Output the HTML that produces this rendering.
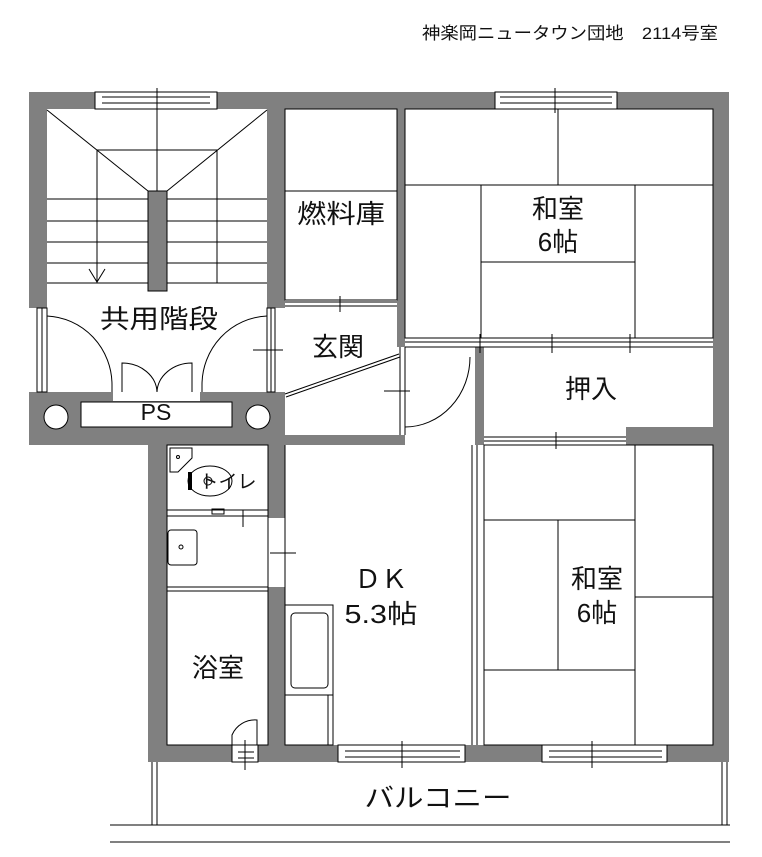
<!DOCTYPE html>
<html><head><meta charset="utf-8"><style>
html,body{margin:0;padding:0;background:#fff;}
svg{display:block;}
text{font-family:"Liberation Sans","Noto Sans CJK JP",sans-serif;fill:#111;}
</style></head><body>
<svg width="762" height="857" viewBox="0 0 762 857" xmlns="http://www.w3.org/2000/svg">
<text x="422" y="39" font-size="17" textLength="296" lengthAdjust="spacingAndGlyphs">神楽岡ニュータウン団地　2114号室</text>
<g fill="#808080">
<rect x="29" y="92" width="700" height="17"/>
<rect x="29" y="92" width="18" height="216"/>
<rect x="267" y="92" width="18" height="216"/>
<rect x="397" y="92" width="8" height="255"/>
<rect x="713" y="92" width="16" height="670"/>
<rect x="29" y="392" width="256" height="53"/>
<rect x="285" y="435" width="120" height="10"/>
<rect x="475" y="347" width="9" height="98"/>
<rect x="626" y="427" width="90" height="18"/>
<rect x="148" y="440" width="19" height="322"/>
<rect x="268" y="440" width="17" height="78"/>
<rect x="268" y="587" width="17" height="158"/>
<rect x="148" y="745" width="581" height="17"/>
</g>
<g fill="#fff" stroke="#000" stroke-width="1">
<rect x="95" y="92" width="122" height="17"/>
<rect x="495" y="92" width="122" height="17"/>
<rect x="37" y="308" width="10" height="84"/>
<rect x="267" y="308" width="8" height="84"/>
<rect x="232" y="745" width="26" height="17"/>
<rect x="338" y="745" width="127" height="17"/>
<rect x="542" y="745" width="125" height="17"/>
<rect x="113" y="392" width="87" height="9" stroke="none"/>
<rect x="81" y="402" width="151" height="25"/>
<circle cx="56" cy="417" r="12"/>
<circle cx="258" cy="417" r="12"/>
</g>
<g stroke="#000" stroke-width="1" fill="none">
<line x1="102" y1="97" x2="210" y2="97"/><line x1="102" y1="103" x2="210" y2="103"/>
<line x1="500" y1="97" x2="612" y2="97"/><line x1="500" y1="103" x2="612" y2="103"/>
<line x1="157" y1="88" x2="157" y2="191"/><line x1="555" y1="88" x2="555" y2="113"/>
<line x1="42" y1="308" x2="42" y2="392"/><line x1="271" y1="308" x2="271" y2="392"/>
<line x1="345" y1="751" x2="460" y2="751"/><line x1="345" y1="757" x2="460" y2="757"/>
<line x1="549" y1="751" x2="662" y2="751"/><line x1="549" y1="757" x2="662" y2="757"/>
<line x1="402" y1="741" x2="402" y2="768"/><line x1="592" y1="741" x2="592" y2="768"/>
<line x1="238" y1="752" x2="254" y2="752"/><line x1="238" y1="758" x2="254" y2="758"/>
<line x1="245" y1="740" x2="245" y2="770"/>
<line x1="47" y1="110" x2="148" y2="191"/><line x1="267" y1="110" x2="167" y2="191"/>
<polyline points="97,283 97,150 217,150 217,283"/>
<line x1="47" y1="199" x2="267" y2="199"/><line x1="47" y1="221" x2="267" y2="221"/>
<line x1="47" y1="242" x2="267" y2="242"/><line x1="47" y1="263" x2="267" y2="263"/>
<line x1="47" y1="283" x2="267" y2="283"/>
<polyline points="89,269 97,282 105,269"/>
<path d="M47,316 A68,69 0 0 1 112,385 L112,392"/>
<path d="M267,316 A68,69 0 0 0 202,385 L202,392"/>
<path d="M122,392 L122,363 A35,30 0 0 1 157,392 A35,30 0 0 1 192,363 L192,392"/>
<rect x="285" y="109" width="112" height="191"/>
<line x1="285" y1="191" x2="397" y2="191"/>
<line x1="285" y1="302" x2="397" y2="302"/><line x1="285" y1="306" x2="397" y2="306"/>
<line x1="340" y1="296" x2="340" y2="312"/>
<line x1="253" y1="350" x2="283" y2="350"/>
<line x1="285" y1="394" x2="399" y2="354"/><line x1="286" y1="397" x2="400" y2="357"/>
<line x1="405" y1="347" x2="405" y2="435"/>
<line x1="400" y1="347" x2="400" y2="435"/>
<path d="M470,357 A65,70 0 0 1 405,427"/>
<line x1="384" y1="391" x2="410" y2="391"/>
<rect x="405" y="109" width="308" height="229"/>
<line x1="405" y1="185" x2="713" y2="185"/><line x1="558" y1="109" x2="558" y2="185"/>
<line x1="481" y1="185" x2="481" y2="338"/><line x1="635" y1="185" x2="635" y2="338"/>
<line x1="481" y1="262" x2="635" y2="262"/>
<line x1="405" y1="342" x2="713" y2="342"/><line x1="405" y1="347" x2="713" y2="347"/>
<line x1="480" y1="334" x2="480" y2="353"/><line x1="552" y1="334" x2="552" y2="353"/><line x1="630" y1="334" x2="630" y2="353"/>
<line x1="484" y1="437" x2="626" y2="437"/><line x1="484" y1="441" x2="626" y2="441"/>
<line x1="556" y1="432" x2="556" y2="449"/>
<rect x="484" y="445" width="229" height="300"/>
<line x1="635" y1="445" x2="635" y2="745"/>
<line x1="484" y1="520" x2="635" y2="520"/><line x1="558" y1="520" x2="558" y2="670"/>
<line x1="484" y1="670" x2="635" y2="670"/><line x1="635" y1="597" x2="713" y2="597"/>
<line x1="472" y1="445" x2="472" y2="745"/><line x1="477" y1="445" x2="477" y2="745"/>
<line x1="285" y1="445" x2="285" y2="745"/>
<rect x="285" y="605" width="48" height="140"/>
<line x1="285" y1="695" x2="333" y2="695"/><line x1="328" y1="695" x2="328" y2="745"/>
<rect x="291" y="613" width="37" height="75" rx="4"/>
<line x1="270" y1="553" x2="296" y2="553"/>
<line x1="268" y1="518" x2="268" y2="587"/>
<rect x="167" y="445" width="101" height="300"/>
<line x1="167" y1="510" x2="268" y2="510"/><line x1="167" y1="516" x2="268" y2="516"/>
<rect x="212" y="509" width="12" height="5"/>
<line x1="243" y1="510" x2="243" y2="527"/>
<polygon points="170,448 192,448 192,458 178,472 170,472"/>
<circle cx="178" cy="457" r="1.5"/>
<ellipse cx="210" cy="481" rx="22" ry="15"/>
<circle cx="208" cy="481" r="4"/>
<rect x="168" y="530" width="29" height="35" rx="3"/>
<circle cx="181" cy="547" r="2"/>
<line x1="167" y1="587" x2="268" y2="587"/><line x1="167" y1="591" x2="268" y2="591"/>
<path d="M232,745 L232,735 A25,25 0 0 1 257,720 L257,745"/>
<line x1="152" y1="762" x2="152" y2="825"/><line x1="157" y1="762" x2="157" y2="825"/>
<line x1="722" y1="762" x2="722" y2="825"/><line x1="727" y1="762" x2="727" y2="825"/>
<line x1="110" y1="825" x2="730" y2="825"/><line x1="110" y1="842" x2="730" y2="842"/>
</g>
<rect x="188" y="472" width="4" height="18" fill="#000"/>
<rect x="148" y="191" width="19" height="100" fill="#808080" stroke="#000"/>
<g font-size="26" text-anchor="middle">
<text x="341" y="223" textLength="88" lengthAdjust="spacingAndGlyphs">燃料庫</text>
<text x="558" y="218">和室</text>
<text x="558" y="251">6帖</text>
<text x="159" y="328" textLength="118" lengthAdjust="spacingAndGlyphs">共用階段</text>
<text x="338" y="356">玄関</text>
<text x="156" y="420" font-size="23">PS</text>
<text x="591" y="398">押入</text>
<text x="228" y="488" font-size="19">トイレ</text>
<text x="381" y="588" textLength="53" lengthAdjust="spacingAndGlyphs">ＤＫ</text>
<text x="381" y="623" textLength="73" lengthAdjust="spacingAndGlyphs">5.3帖</text>
<text x="597" y="588">和室</text>
<text x="597" y="622">6帖</text>
<text x="218" y="677">浴室</text>
<text x="438" y="807" textLength="147" lengthAdjust="spacingAndGlyphs">バルコニー</text>
</g>
</svg>
</body></html>
